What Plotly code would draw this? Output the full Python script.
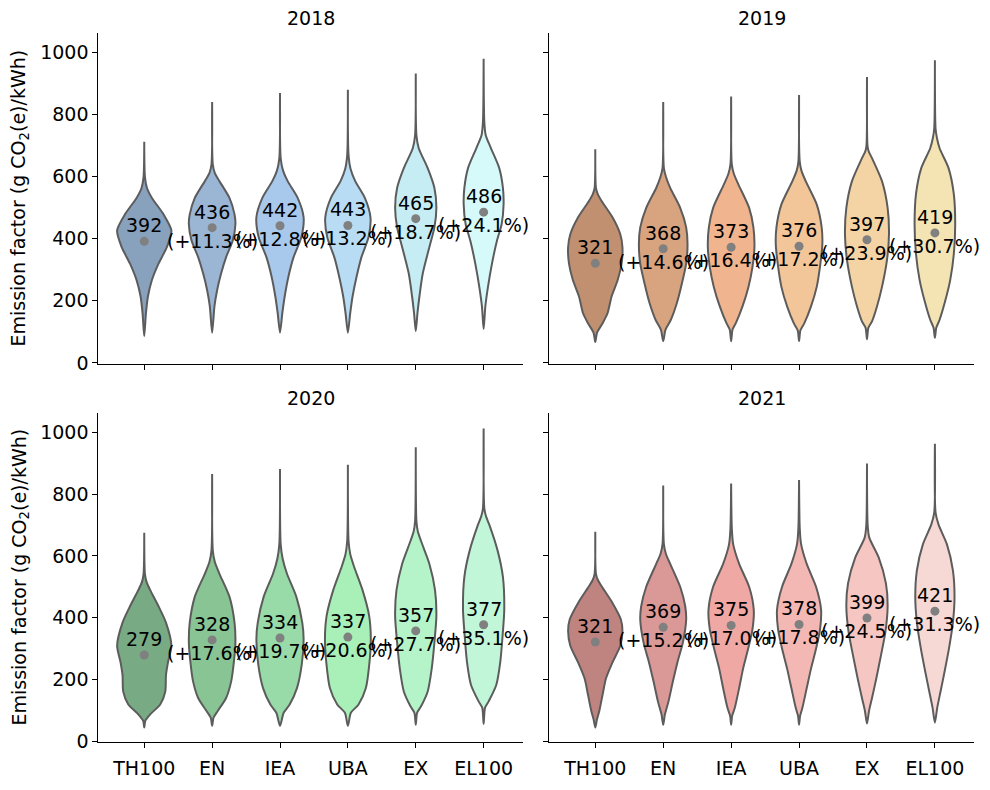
import plotly.graph_objects as go

categories = ["TH100", "EN", "IEA", "UBA", "EX", "EL100"]
years = ["2018", "2019", "2020", "2021"]

# mean emission factors per year
means_2018 = [392, 436, 442, 443, 465, 486]
means_2019 = [321, 368, 373, 376, 397, 419]
means_2020 = [279, 328, 334, 337, 357, 377]
means_2021 = [321, 369, 375, 378, 399, 421]

# relative increase vs TH100 (%)
pct_2018 = [None, 11.3, 12.8, 13.2, 18.7, 24.1]
pct_2019 = [None, 14.6, 16.4, 17.2, 23.9, 30.7]
pct_2020 = [None, 17.6, 19.7, 20.6, 27.7, 35.1]
pct_2021 = [None, 15.2, 17.0, 17.8, 24.5, 31.3]

# violin density profiles: levels (g/kWh) and half-widths (category units)
lev_2018 = [
    [86, 160, 214, 267, 320, 373, 427, 479, 532, 564, 600, 713],
    [97, 182, 235, 288, 341, 395, 447, 479, 532, 586, 612, 639, 841],
    [97, 160, 214, 277, 341, 405, 469, 532, 586, 620, 660, 870],
    [97, 160, 214, 277, 341, 405, 469, 532, 586, 625, 670, 881],
    [102, 160, 214, 288, 373, 437, 500, 564, 628, 692, 734, 933],
    [109, 182, 245, 320, 394, 447, 511, 564, 628, 692, 735, 777, 981],
]
dens_2018 = [
    [0, .025, .054, .113, .21, .333, .40, .284, .113, .04, .01, 0],
    [0, .034, .074, .132, .206, .304, .343, .33, .255, .108, .04, .01, 0],
    [0, .034, .069, .123, .2, .314, .348, .26, .113, .045, .01, 0],
    [0, .034, .069, .127, .2, .304, .333, .25, .108, .04, .01, 0],
    [0, .025, .054, .103, .2, .275, .304, .275, .176, .044, .01, 0],
    [0, .025, .064, .123, .196, .265, .294, .284, .23, .108, .03, .01, 0],
]
lev_2019 = [
    [67, 97, 128, 160, 214, 267, 320, 373, 415, 469, 522, 545, 564, 689],
    [70, 107, 139, 192, 256, 320, 383, 437, 500, 564, 600, 628, 841],
    [70, 107, 128, 182, 245, 309, 373, 437, 500, 575, 610, 640, 859],
    [70, 105, 128, 182, 245, 320, 383, 437, 511, 586, 620, 649, 864],
    [76, 113, 134, 182, 245, 331, 415, 500, 586, 660, 682, 700, 922],
    [81, 113, 139, 192, 267, 352, 447, 543, 628, 692, 725, 755, 976],
]
dens_2019 = [
    [0, .025, .108, .18, .24, .33, .387, .40, .368, .255, .093, .035, .01, 0],
    [0, .034, .113, .2, .275, .338, .358, .338, .25, .103, .04, .01, 0],
    [0, .02, .069, .167, .255, .314, .343, .328, .265, .108, .04, .01, 0],
    [0, .02, .078, .176, .26, .314, .343, .333, .26, .098, .035, .01, 0],
    [0, .02, .074, .147, .221, .294, .324, .304, .221, .074, .025, .008, 0],
    [0, .02, .069, .142, .225, .279, .299, .279, .201, .069, .03, .01, 0],
]
lev_2020 = [
    [44, 66, 87, 119, 161, 214, 256, 309, 384, 437, 489, 515, 542, 675],
    [50, 76, 98, 140, 193, 256, 320, 384, 468, 542, 580, 617, 865],
    [50, 92, 119, 172, 246, 330, 384, 468, 542, 590, 638, 881],
    [50, 92, 119, 172, 246, 330, 405, 489, 564, 605, 648, 895],
    [53, 92, 113, 161, 235, 320, 405, 489, 574, 648, 680, 712, 952],
    [56, 108, 129, 182, 256, 341, 426, 532, 617, 701, 728, 754, 1012],
]
dens_2020 = [
    [0, .015, .088, .235, .31, .32, .35, .40, .32, .21, .088, .035, .01, 0],
    [0, .02, .083, .206, .28, .32, .343, .33, .255, .108, .04, .01, 0],
    [0, .054, .142, .25, .319, .348, .328, .24, .103, .04, .01, 0],
    [0, .044, .157, .265, .314, .338, .314, .216, .093, .035, .01, 0],
    [0, .02, .078, .176, .235, .275, .304, .284, .201, .078, .03, .01, 0],
    [0, .02, .074, .186, .245, .279, .304, .284, .206, .083, .035, .01, 0],
]
lev_2021 = [
    [44, 71, 98, 151, 203, 256, 309, 357, 394, 447, 500, 521, 542, 678],
    [53, 87, 129, 193, 256, 320, 394, 437, 500, 574, 606, 638, 828],
    [53, 82, 108, 172, 235, 299, 362, 426, 500, 574, 638, 690, 834],
    [53, 82, 108, 172, 235, 299, 362, 426, 500, 574, 638, 690, 846],
    [57, 98, 140, 203, 278, 352, 437, 511, 595, 659, 700, 899],
    [60, 108, 161, 225, 299, 384, 468, 553, 638, 701, 740, 963],
]
dens_2021 = [
    [0, .025, .059, .108, .157, .255, .368, .40, .377, .255, .098, .04, .01, 0],
    [0, .025, .078, .142, .21, .29, .338, .324, .25, .103, .04, .01, 0],
    [0, .015, .054, .118, .176, .25, .314, .333, .265, .118, .03, .01, 0],
    [0, .015, .049, .113, .176, .25, .309, .324, .25, .113, .03, .01, 0],
    [0, .03, .074, .137, .206, .27, .304, .279, .172, .034, .01, 0],
    [0, .034, .083, .142, .206, .265, .289, .265, .176, .054, .01, 0],
]

colors_2018 = ["#88a1bd", "#9bb5d5", "#a8c8ec", "#b8dcf4", "#c6ecf4", "#d6fafa"]
colors_2019 = ["#c09070", "#d8a480", "#f0b48e", "#f2c698", "#f4d4a4", "#f4e4b4"]
colors_2020 = ["#78aa84", "#88c494", "#98daa8", "#a8f0b8", "#b4f4c8", "#c2f6d8"]
colors_2021 = ["#c08480", "#da9896", "#f0a8a4", "#f4b8b4", "#f6c6c2", "#f6d8d4"]

panels = [
    (means_2018, pct_2018, lev_2018, dens_2018, colors_2018),
    (means_2019, pct_2019, lev_2019, dens_2019, colors_2019),
    (means_2020, pct_2020, lev_2020, dens_2020, colors_2020),
    (means_2021, pct_2021, lev_2021, dens_2021, colors_2021),
]

W, H = 990, 790
FONT = "DejaVu Sans"
FS = 19
xdom = [[98.3 / W, 523 / W], [549.3 / W, 974.3 / W]]
ydom = [[1 - 368.3 / H, 1 - 33.3 / H], [1 - 751 / H, 1 - 417.3 / H]]

fig = go.Figure()
annotations = []

for p, (means, pcts, levs, dens, cols) in enumerate(panels):
    r, c = divmod(p, 2)
    k = "" if p == 0 else str(p + 1)
    xr, yr = "x" + k, "y" + k
    for i in range(len(categories)):
        ys = levs[i]
        ws = dens[i]
        xs = [i + w for w in ws] + [i - w for w in ws[::-1]]
        yy = list(ys) + list(ys[::-1])
        fig.add_trace(go.Scatter(
            x=xs, y=yy, xaxis=xr, yaxis=yr, mode="lines",
            fill="toself", fillcolor=cols[i],
            line=dict(color="#5c5c5c", width=2, shape="spline", smoothing=0.7),
            hoverinfo="skip", showlegend=False))
    fig.add_trace(go.Scatter(
        x=list(range(len(categories))), y=means, xaxis=xr, yaxis=yr,
        mode="markers", marker=dict(color="#808080", size=9),
        showlegend=False, hoverinfo="skip"))
    for i, m in enumerate(means):
        annotations.append(dict(
            x=i, y=m, xref=xr, yref=yr, text=str(m), showarrow=False,
            yshift=16, font=dict(family=FONT, size=FS, color="black")))
        if pcts[i] is not None:
            annotations.append(dict(
                x=i, y=m, xref=xr, yref=yr, text="(+%.1f%%)" % pcts[i],
                showarrow=False, yshift=-13,
                font=dict(family=FONT, size=FS, color="black")))
    annotations.append(dict(
        x=(xdom[c][0] + xdom[c][1]) / 2, y=1 - (18 if r == 0 else 403) / H,
        xref="paper", yref="paper", text=years[p], showarrow=False,
        xanchor="center", yanchor="middle",
        font=dict(family=FONT, size=FS, color="black")))

    axx = dict(domain=xdom[c], range=[-0.677, 5.58], tickmode="array",
               tickvals=list(range(len(categories))), ticktext=categories,
               showticklabels=(r == 1), ticks="outside", ticklen=5,
               tickwidth=1, tickcolor="black", showline=True,
               linecolor="black", linewidth=1, showgrid=False, zeroline=False,
               ticklabelstandoff=4,
               anchor=yr, tickfont=dict(family=FONT, size=FS, color="black"))
    axy = dict(domain=ydom[r], range=[-4, 1064], tickmode="array",
               tickvals=[0, 200, 400, 600, 800, 1000],
               showticklabels=(c == 0), ticks="outside", ticklen=5,
               tickwidth=1, tickcolor="black", showline=True,
               linecolor="black", linewidth=1, showgrid=False, zeroline=False,
               anchor=xr, tickfont=dict(family=FONT, size=FS, color="black"))
    fig.update_layout({"xaxis" + k: axx, "yaxis" + k: axy})

for r in range(2):
    annotations.append(dict(
        x=20 / W, y=(ydom[r][0] + ydom[r][1]) / 2, xref="paper", yref="paper",
        text="Emission factor (g CO<sub>2</sub>(e)/kWh)", textangle=-90,
        showarrow=False, xanchor="center", yanchor="middle",
        font=dict(family=FONT, size=FS, color="black")))

fig.update_layout(
    width=W, height=H, margin=dict(l=0, r=0, t=0, b=0),
    paper_bgcolor="white", plot_bgcolor="white",
    annotations=annotations, showlegend=False,
    font=dict(family=FONT, size=FS, color="black"))

fig.write_html("out.html", config={"displayModeBar": False},
               post_script="document.body.style.margin='0px';document.body.style.overflow='hidden';")
